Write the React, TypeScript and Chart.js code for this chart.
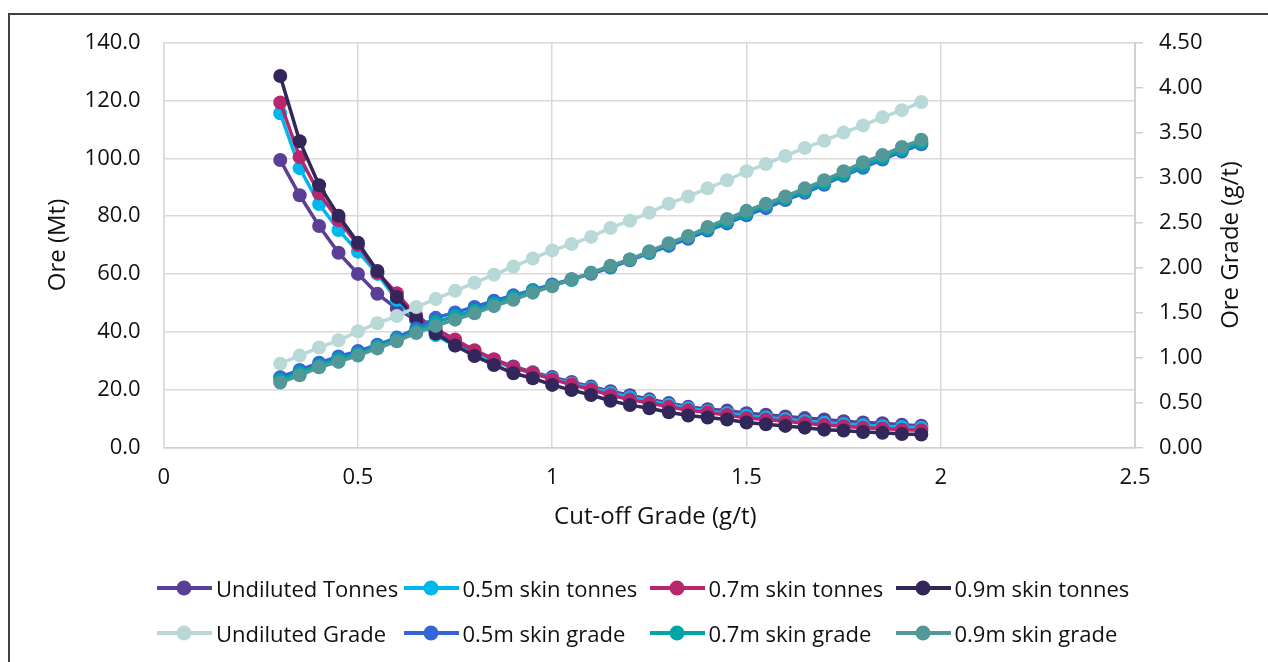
import React, { useEffect, useRef } from "react";
import { Chart, registerables } from "chart.js";

Chart.register(...registerables);

const cutoff = [0.3, 0.35, 0.4, 0.45, 0.5, 0.55, 0.6, 0.65, 0.7, 0.75, 0.8, 0.85, 0.9, 0.95, 1.0, 1.05, 1.1, 1.15, 1.2, 1.25, 1.3, 1.35, 1.4, 1.45, 1.5, 1.55, 1.6, 1.65, 1.7, 1.75, 1.8, 1.85, 1.9, 1.95];

const undilutedTonnes = [99.4, 87.2, 76.6, 67.3, 60.0, 53.1, 48.0, 44.0, 39.8, 36.0, 33.0, 30.3, 28.0, 26.0, 24.3, 22.6, 21.0, 19.4, 18.0, 16.6, 15.3, 14.0, 13.2, 12.7, 11.8, 11.3, 10.7, 10.1, 9.6, 9.0, 8.6, 8.3, 7.8, 7.5];
const skin05Tonnes = [115.6, 96.6, 84.2, 75.2, 67.7, 60.0, 51.0, 44.0, 38.8, 35.2, 32.3, 29.7, 27.5, 25.7, 23.8, 22.1, 20.5, 18.8, 17.3, 16.0, 14.7, 13.5, 12.5, 11.8, 10.9, 10.3, 9.7, 9.0, 8.5, 8.1, 7.6, 7.3, 7.0, 6.8];
const skin07Tonnes = [119.3, 100.4, 87.9, 78.6, 70.0, 60.4, 53.3, 45.5, 41.0, 37.3, 33.6, 30.5, 27.6, 25.7, 23.5, 21.7, 20.0, 18.0, 16.5, 15.3, 14.0, 12.8, 12.0, 11.2, 10.1, 9.6, 9.0, 8.3, 7.7, 7.3, 6.8, 6.5, 6.1, 5.9];
const skin09Tonnes = [128.5, 105.9, 90.7, 80.1, 70.8, 61.0, 52.0, 44.6, 39.4, 35.2, 31.6, 28.5, 25.6, 23.9, 21.6, 19.8, 18.1, 16.1, 14.6, 13.5, 12.1, 11.0, 10.3, 9.6, 8.6, 8.0, 7.4, 6.8, 6.1, 5.8, 5.3, 5.0, 4.6, 4.4];

const undilutedGrade = [0.93, 1.02, 1.11, 1.19, 1.29, 1.38, 1.46, 1.56, 1.65, 1.74, 1.83, 1.92, 2.01, 2.10, 2.19, 2.26, 2.34, 2.44, 2.52, 2.61, 2.71, 2.79, 2.88, 2.97, 3.07, 3.15, 3.24, 3.33, 3.41, 3.50, 3.58, 3.67, 3.75, 3.84];
const skin05Grade = [0.78, 0.86, 0.94, 1.01, 1.07, 1.14, 1.22, 1.32, 1.44, 1.50, 1.56, 1.63, 1.69, 1.75, 1.81, 1.87, 1.93, 2.00, 2.08, 2.16, 2.24, 2.32, 2.41, 2.49, 2.58, 2.66, 2.75, 2.83, 2.92, 3.02, 3.11, 3.20, 3.29, 3.37];
const skin07Grade = [0.75, 0.83, 0.91, 0.98, 1.04, 1.12, 1.20, 1.29, 1.39, 1.46, 1.52, 1.60, 1.67, 1.74, 1.80, 1.86, 1.94, 2.01, 2.09, 2.17, 2.26, 2.34, 2.43, 2.51, 2.60, 2.69, 2.77, 2.85, 2.94, 3.04, 3.13, 3.22, 3.31, 3.39];
const skin09Grade = [0.72, 0.80, 0.89, 0.95, 1.02, 1.10, 1.18, 1.27, 1.35, 1.42, 1.49, 1.57, 1.64, 1.72, 1.79, 1.87, 1.94, 2.02, 2.09, 2.18, 2.27, 2.35, 2.45, 2.54, 2.63, 2.71, 2.79, 2.88, 2.97, 3.07, 3.17, 3.25, 3.34, 3.42];

const seriesNames = [
  "Undiluted Tonnes", "0.5m skin tonnes", "0.7m skin tonnes", "0.9m skin tonnes",
  "Undiluted Grade", "0.5m skin grade", "0.7m skin grade", "0.9m skin grade",
];
const seriesColors = [
  "#5B3F97", "#00B7EB", "#B8276E", "#32265A",
  "#B9D8D8", "#3366D6", "#00A5A5", "#529898",
];
const seriesValues = [
  undilutedTonnes, skin05Tonnes, skin07Tonnes, skin09Tonnes,
  undilutedGrade, skin05Grade, skin07Grade, skin09Grade,
];
const seriesAxis = ["y", "y", "y", "y", "y1", "y1", "y1", "y1"];

const xTitle = "Cut-off Grade (g/t)";
const yTitle = "Ore (Mt)";
const y1Title = "Ore Grade (g/t)";

const FONT_FAMILY = '"Open Sans", sans-serif';
const FONT_SIZE = 22;
const TITLE_SIZE = 24;
const TEXT_COLOR = "#111";

const extraTitlesPlugin = {
  id: "extraTitles",
  afterDraw(chart: any) {
    const { ctx, chartArea } = chart;
    ctx.save();
    ctx.font = `${TITLE_SIZE}px ${FONT_FAMILY}`;
    ctx.fillStyle = TEXT_COLOR;
    ctx.textAlign = "center";
    ctx.textBaseline = "middle";
    ctx.fillText(xTitle, (chartArea.left + chartArea.right) / 2 + 6, 517.5);
    ctx.translate(1231, (chartArea.top + chartArea.bottom) / 2);
    ctx.rotate(-Math.PI / 2);
    ctx.fillText(y1Title, 0, 0);
    ctx.restore();
  },
};

function LegendMarker({ color }: { color: string }) {
  return (
    <svg width={56} height={18} style={{ display: "block", flex: "0 0 auto" }}>
      <line x1={0} y1={9} x2={55} y2={9} stroke={color} strokeWidth={4} />
      <circle cx={27} cy={9} r={7.5} fill={color} />
    </svg>
  );
}

export default function App() {
  const canvasRef = useRef<HTMLCanvasElement | null>(null);

  useEffect(() => {
    const canvas = canvasRef.current;
    if (!canvas) return;
    const font = { family: FONT_FAMILY, size: FONT_SIZE };
    const titleFont = { family: FONT_FAMILY, size: TITLE_SIZE };
    const datasets = seriesNames.map((name, i) => ({
      label: name,
      data: cutoff.map((x, j) => ({ x, y: seriesValues[i][j] })),
      yAxisID: seriesAxis[i],
      borderColor: seriesColors[i],
      backgroundColor: seriesColors[i],
      pointBackgroundColor: seriesColors[i],
      pointBorderWidth: 0,
      pointRadius: 7,
      borderWidth: 3.5,
      tension: 0,
      order: seriesNames.length - i,
    }));
    const chart = new Chart(canvas, {
      type: "line",
      data: { datasets },
      plugins: [extraTitlesPlugin],
      options: {
        responsive: false,
        animation: false,
        layout: { padding: { top: 42.7, left: 0, right: 0, bottom: 0 } },
        plugins: { legend: { display: false }, tooltip: { enabled: false } },
        scales: {
          x: {
            type: "linear",
            min: 0,
            max: 2.5,
            ticks: { stepSize: 0.5, padding: 17.5, font, color: TEXT_COLOR, callback: (v: any) => String(Number(v)) },
            grid: { color: "#d9d9d9", lineWidth: 1.5, drawTicks: false },
            border: { color: "#d0d0d0", width: 1.5 },
            afterFit: (s: any) => { s.height = 214.7; },
          },
          y: {
            type: "linear",
            position: "left",
            min: 0,
            max: 140,
            ticks: { stepSize: 20, padding: 23, font, color: TEXT_COLOR, callback: (v: any) => Number(v).toFixed(1) },
            grid: { color: "#d9d9d9", lineWidth: 1.5, drawTicks: false },
            border: { color: "#d9d9d9", width: 1.5 },
            title: { display: true, text: yTitle, font: titleFont, color: TEXT_COLOR, padding: { top: 43.5, bottom: 0 } },
            afterFit: (s: any) => { s.width = 163.7; },
          },
          y1: {
            type: "linear",
            position: "right",
            min: 0,
            max: 4.5,
            ticks: { stepSize: 0.5, padding: 16, font, color: TEXT_COLOR, callback: (v: any) => Number(v).toFixed(2) },
            grid: { drawOnChartArea: false, drawTicks: true, tickLength: 8, color: "#d0d0d0", lineWidth: 1.5 },
            border: { color: "#d0d0d0", width: 2 },
            afterFit: (s: any) => { s.width = 133; },
          },
        },
      },
    } as any);
    return () => chart.destroy();
  }, []);

  const colX = [157, 403.5, 649.5, 895.5];
  const rowY = [588, 633];

  return (
    <div style={{ position: "fixed", left: 0, top: 0, width: 1268, height: 662, overflow: "hidden", background: "#fff" }}>
      <canvas ref={canvasRef} width={1268} height={662} style={{ position: "absolute", left: 0, top: 0, width: 1268, height: 662 }} />
      <div style={{ position: "absolute", left: 8, top: 13, width: 1400, height: 800, border: "2px solid #404040", boxSizing: "border-box", pointerEvents: "none" }} />
      {seriesNames.map((name, i) => {
        const col = i % 4;
        const row = Math.floor(i / 4);
        return (
          <div key={name} style={{ position: "absolute", left: colX[col], top: rowY[row] - 15, height: 30, display: "flex", alignItems: "center", fontFamily: FONT_FAMILY, fontSize: FONT_SIZE, color: TEXT_COLOR, whiteSpace: "nowrap" }}>
            <LegendMarker color={seriesColors[i]} />
            <span style={{ marginLeft: 3 }}>{name}</span>
          </div>
        );
      })}
    </div>
  );
}
